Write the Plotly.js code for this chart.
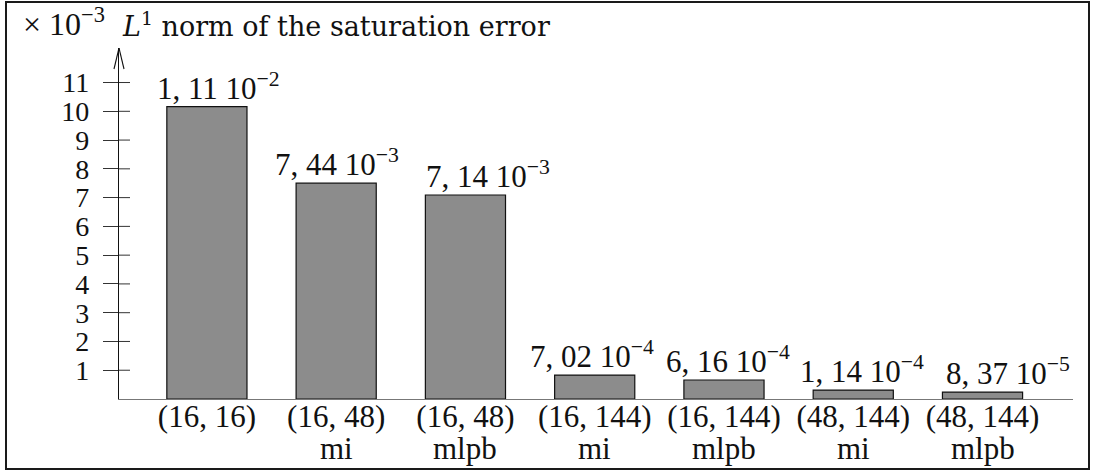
<!DOCTYPE html>
<html>
<head>
<meta charset="utf-8">
<script src="https://cdn.plot.ly/plotly-3.0.1.min.js"></script>
<style>
  html, body { margin: 0; padding: 0; background: #fff; }
  #wrap { position: relative; width: 1093px; height: 471px; }
  #chart { position: absolute; left: 0; top: 0; width: 1093px; height: 471px; }
  #frame { position: absolute; left: 5px; top: 1px; width: 1081px; height: 465px;
           border: 2px solid #1a1a1a; pointer-events: none; }
</style>
</head>
<body>
<div id="wrap">
  <div id="chart"></div>
  <div id="frame"></div>
</div>
<script>
// ---- data ----
const configs = ['(16, 16)', '(16, 48)', '(16, 48)', '(16, 144)', '(16, 144)', '(48, 144)', '(48, 144)'];
const methods = ['', 'mi', 'mlpb', 'mi', 'mlpb', 'mi', 'mlpb'];
const barHeights = [10.16, 7.5, 7.09, 0.83, 0.66, 0.31, 0.24];   // in units of 10^-3, as drawn
const labelMantissa = ['1, 11', '7, 44', '7, 14', '7, 02', '6, 16', '1, 14', '8, 37'];
const labelExponent = ['−2', '−3', '−3', '−4', '−4', '−4', '−5'];
const yTickValues = [1, 2, 3, 4, 5, 6, 7, 8, 9, 10, 11];
const yTickLabels = ['1', '2', '3', '4', '5', '6', '7', '8', '9', '10', '11'];
const titleText = '<i>L</i><sup>1</sup> norm of the saturation error';
const scaleText = '× 10<sup>−3</sup>';

// ---- styling / placement (not data) ----
const FONT = 'Liberation Serif, Times New Roman, serif';
const TITLE_FONT = 'DejaVu Serif, Liberation Serif, serif';
const labelNudge = [-51, -62, -40, -66, -59, -54, -38]; // px from bar centre to label left edge

const idx = configs.map((_, i) => i);

const trace = {
  type: 'bar',
  x: idx,
  y: barHeights,
  width: 0.62,
  marker: { color: '#8c8c8c', line: { color: '#111', width: 1.2 } },
  hoverinfo: 'skip',
  cliponaxis: false
};

const annotations = [];
idx.forEach(i => {
  annotations.push({
    x: i, y: barHeights[i], xref: 'x', yref: 'y',
    text: labelMantissa[i] + ' 10<sup>' + labelExponent[i] + '</sup>',
    showarrow: false, xanchor: 'left', yanchor: 'bottom',
    xshift: labelNudge[i], yshift: 0, borderpad: 0,
    font: { family: FONT, size: 31, color: '#111' }
  });
  if (methods[i]) {
    annotations.push({
      x: i, y: 0, xref: 'x', yref: 'paper',
      text: methods[i], showarrow: false, xanchor: 'center', yanchor: 'top',
      yshift: -31, borderpad: 0,
      font: { family: FONT, size: 31, color: '#111' }
    });
  }
});
annotations.push({
  x: 0, y: 1, xref: 'paper', yref: 'paper', xanchor: 'left', yanchor: 'bottom',
  xshift: 2, yshift: 5, text: titleText, showarrow: false, borderpad: 0,
  font: { family: TITLE_FONT, size: 27, color: '#111' }
});
annotations.push({
  x: 0, y: 1, xref: 'paper', yref: 'paper', xanchor: 'right', yanchor: 'bottom',
  xshift: -13, yshift: 5, text: scaleText, showarrow: false, borderpad: 0,
  font: { family: FONT, size: 32, color: '#111' }
});

const Ytop = 12.2;
const shapes = [];
yTickValues.forEach(v => {
  shapes.push({
    type: 'line', xref: 'paper', yref: 'y', xsizemode: 'pixel', xanchor: 0,
    x0: 0, x1: 11, y0: v, y1: v, line: { color: '#333', width: 1 }
  });
});
[-5, 5].forEach(dx => {
  shapes.push({
    type: 'line', xref: 'paper', yref: 'y', xsizemode: 'pixel', xanchor: 0,
    ysizemode: 'pixel', yanchor: Ytop,
    x0: dx, y0: -21, x1: 0, y1: 0, line: { color: '#111', width: 1.1 }
  });
});

const layout = {
  width: 1093, height: 471,
  margin: { l: 119, r: 20, t: 48, b: 72, pad: 0 },
  paper_bgcolor: 'rgba(0,0,0,0)', plot_bgcolor: 'rgba(0,0,0,0)',
  showlegend: false,
  font: { family: FONT, size: 28, color: '#111' },
  xaxis: {
    range: [-0.68, 6.7], tickmode: 'array', tickvals: idx, ticktext: configs,
    showgrid: false, zeroline: false, showline: true, linecolor: '#777', linewidth: 1,
    ticks: '', ticklabelstandoff: -10,
    tickfont: { family: FONT, size: 31, color: '#111' }, fixedrange: true
  },
  yaxis: {
    range: [0, Ytop], tickmode: 'array', tickvals: yTickValues, ticktext: yTickLabels,
    showgrid: false, zeroline: false, showline: true, linecolor: '#111', linewidth: 1.2,
    ticks: 'outside', ticklen: 15, tickcolor: '#333', tickwidth: 1, ticklabelstandoff: 8,
    tickfont: { family: FONT, size: 28, color: '#111' }, fixedrange: true
  },
  annotations: annotations,
  shapes: shapes,
  bargap: 0
};

Plotly.newPlot('chart', [trace], layout, { displayModeBar: false, staticPlot: true });
</script>
</body>
</html>
